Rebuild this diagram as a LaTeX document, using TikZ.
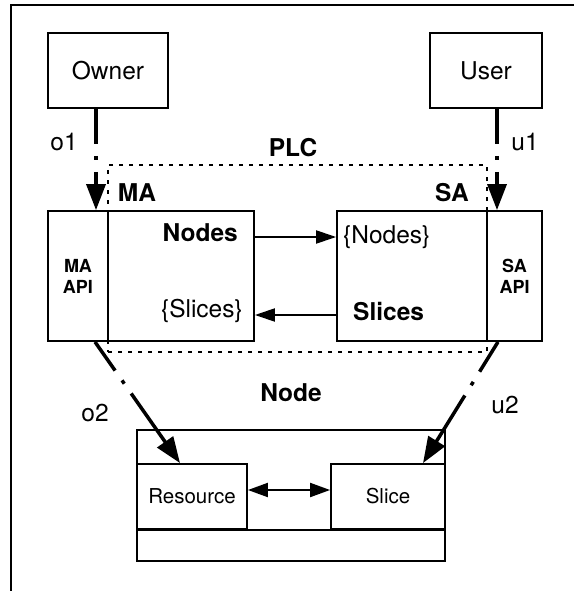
\documentclass[tikz,border=0pt]{standalone}
\usepackage{fontspec}
\setmainfont{TeX Gyre Heros}
\usetikzlibrary{arrows.meta,calc}
\begin{document}
\begin{tikzpicture}[x=1pt,y=-1pt,
  box/.style={draw,line width=1.8pt,inner sep=0pt},
  txt/.style={font=\fontsize{24.5}{28}\selectfont,inner sep=0pt},
  btxt/.style={font=\fontsize{24.5}{28}\selectfont\bfseries,inner sep=0pt},
  smalltxt/.style={font=\fontsize{20.5}{24}\selectfont},
  apitxt/.style={font=\fontsize{18}{21}\selectfont\bfseries,align=center},
  conn/.style={line width=3.5pt,dash pattern=on 35pt off 12pt on 4pt off 12pt on 400pt,
    -{Triangle[length=26pt,width=19pt]}},
  thinarrow/.style={line width=2pt,-{Triangle[length=20pt,width=13pt]}},
  dblarrow/.style={line width=2pt,{Triangle[length=20pt,width=14pt]}-{Triangle[length=20pt,width=14pt]}},
  plcline/.style={draw,line width=1.6pt,dash pattern=on 4pt off 6pt}
]
\useasboundingbox (0,0) rectangle (574,591);
% outer frame
\draw[line width=2.5pt] (11,591) -- (11,5) -- (574,5);

% PLC dotted region
\node[plcline,minimum width=379pt,minimum height=187pt,inner sep=0pt] (plc) at (297.5,258.5) {};

% Owner / User
\node[box,minimum width=120pt,minimum height=75pt,txt] (owner) at (108,70.5) {Owner};
\node[box,minimum width=112pt,minimum height=75pt,txt] (user) at (486,70.5) {User};

% MA box
\node[box,minimum width=60pt,minimum height=130pt,apitxt] (MAapi) at (78,276) {MA\\API};
\node[box,minimum width=146pt,minimum height=130pt] (MAmain) at (181,276) {};
% SA box
\node[box,minimum width=150pt,minimum height=130pt] (SAmain) at (412,276) {};
\node[box,minimum width=55pt,minimum height=130pt,apitxt] (SAapi) at (514.5,276) {SA\\API};

% Node box
\node[box,minimum width=308pt,minimum height=131pt] (nodebox) at (291,495.5) {};
\node[box,minimum width=110pt,minimum height=65pt,smalltxt] (Resource) at (192,496.5) {Resource};
\node[box,minimum width=114pt,minimum height=65pt,smalltxt] (Slice) at (388,496.5) {Slice};
\draw[line width=1.8pt] (nodebox.west |- Resource.south) -- (nodebox.east |- Resource.south);

% labels
\node[btxt] (plclabel) at (293,148) {PLC};
\node[btxt] (malabel) at (137,193) {MA};
\node[btxt] (salabel) at (452,193) {SA};
\node[txt] (o1) at (64,142) {o1};
\node[txt] (u1) at (525,142) {u1};
\node[txt] (o2) at (95,413) {o2};
\node[txt] (u2) at (505,405) {u2};
\node[btxt] (nodelabel) at (291,393) {Node};
\node[btxt,anchor=east] (nodes) at (238,233) {Nodes};
\node[txt,anchor=east] (slicesset) at (243,311) {\{Slices\}};
\node[txt,anchor=west] (nodesset) at (343,237) {\{Nodes\}};
\node[btxt,anchor=west] (slices) at (353,312) {Slices};

% arrows between agents
\draw[thinarrow] ([yshift=39pt]MAmain.east) -- ([yshift=39pt]SAmain.west);
\draw[thinarrow] ([yshift=-39pt]SAmain.west) -- ([yshift=-39pt]MAmain.east);
\draw[dblarrow] ([yshift=6.5pt]Resource.east) -- ([yshift=6.5pt]Slice.west);

% connectors
\draw[conn] ([xshift=-12pt]owner.south) -- ([xshift=-12pt]owner.south |- MAapi.north);
\draw[conn] ([xshift=11pt]user.south) -- ([xshift=11pt]user.south |- SAapi.north);
\draw[conn] ([xshift=17pt]MAapi.south) -- ([xshift=-12pt]Resource.north);
\draw[conn] ([xshift=-16.5pt]SAapi.south) -- ([xshift=35pt]Slice.north);
\end{tikzpicture}
\end{document}
